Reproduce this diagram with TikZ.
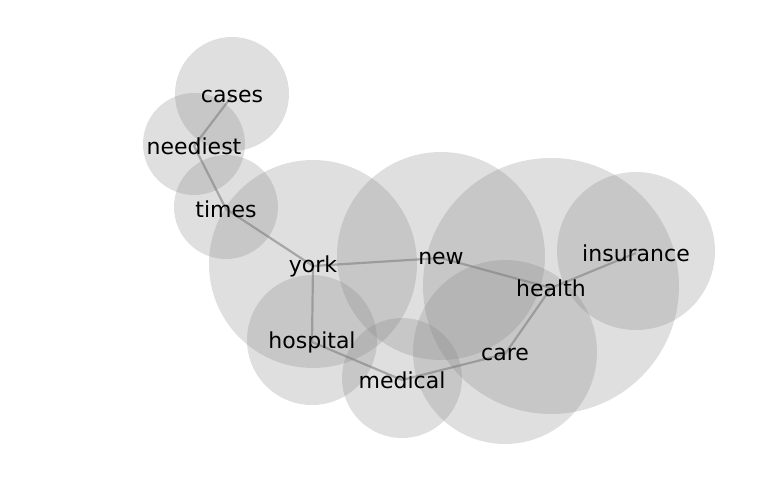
\documentclass[tikz,border=0pt]{standalone}
\usepackage{fontspec}
\setmainfont{DejaVu Sans}
\pgfdeclarelayer{bg}
\pgfsetlayers{bg,main}
\begin{document}
\begin{tikzpicture}[x=1pt,y=-1pt]
\tikzstyle{every node}=[inner sep=0pt,font=\fontsize{22}{26}\selectfont];
\tikzstyle{bubble}=[fill=gray,fill opacity=0.25];
\tikzstyle{link}=[draw=gray,opacity=0.6,line width=2.2pt];
\useasboundingbox (0,0) rectangle (768,500);
\path (232,96) node (cases) {cases};
\path (194,146) node (neediest) {neediest};
\path (226,209) node (times) {times};
\path (313,266) node (york) {york};
\path (441,258) node (new) {new};
\path (551,288) node (health) {health};
\path (636,253) node (insurance) {insurance};
\path (312,342) node (hospital) {hospital};
\path (402,380) node (medical) {medical};
\path (505,354) node (care) {care};
\begin{pgfonlayer}{bg}
\fill[bubble] (cases.center) ++(0,-2) circle (57pt);
\fill[bubble] (neediest.center) ++(0,-2) circle (51pt);
\fill[bubble] (times.center) ++(0,-2) circle (52pt);
\fill[bubble] (york.center) ++(0,-2) circle (104pt);
\fill[bubble] (new.center) ++(0,-2) circle (104pt);
\fill[bubble] (health.center) ++(0,-2) circle (128pt);
\fill[bubble] (insurance.center) ++(0,-2) circle (79pt);
\fill[bubble] (hospital.center) ++(0,-2) circle (65pt);
\fill[bubble] (medical.center) ++(0,-2) circle (60pt);
\fill[bubble] (care.center) ++(0,-2) circle (92pt);
\draw[link] (cases.center) -- (neediest.center)
(neediest.center) -- (times.center)
(times.center) -- (york.center)
(york.center) -- (new.center)
(york.center) -- (hospital.center)
(hospital.center) -- (medical.center)
(medical.center) -- (care.center)
(care.center) -- (health.center)
(new.center) -- (health.center)
(health.center) -- (insurance.center);
\end{pgfonlayer}
\end{tikzpicture}
\end{document}
